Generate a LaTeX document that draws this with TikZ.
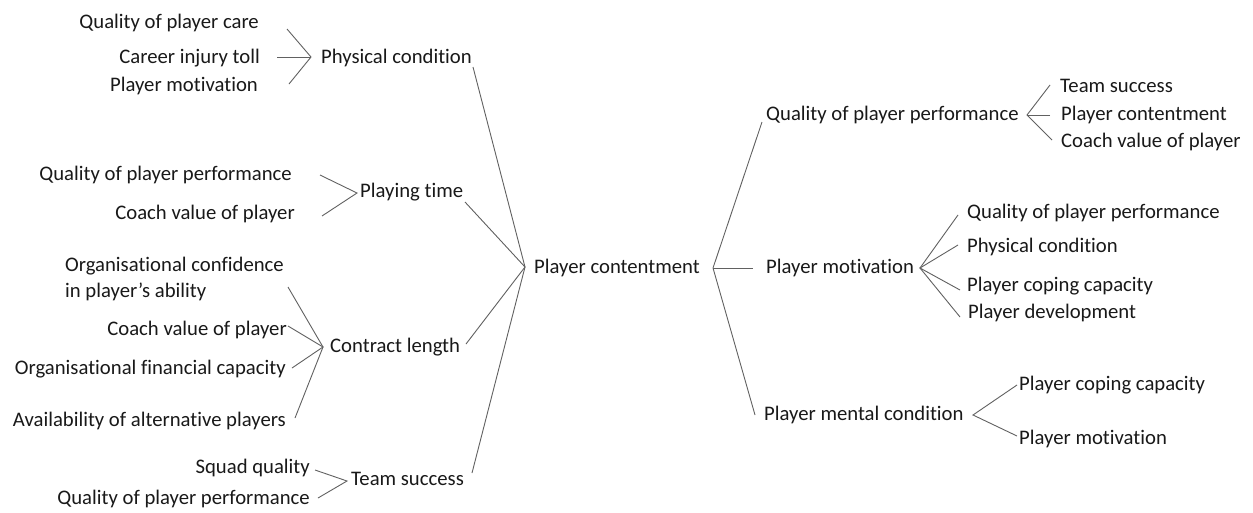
\documentclass[tikz,border=0pt]{standalone}
\usepackage{fontspec}
\setmainfont{Carlito}[Ligatures=NoCommon]
\begin{document}
\begin{tikzpicture}[x=1pt,y=-1pt,
  lbl/.style={inner sep=0pt,text=black!90,font=\fontsize{20.7}{25}\selectfont},
  le/.style={lbl,anchor=base east},
  lw/.style={lbl,anchor=base west},
  link/.style={draw=black!62,line width=0.9pt}]
\fill[white] (0,0) rectangle (1253,512);
\useasboundingbox (0,0) rectangle (1253,512);

% ---- centre ----
\node[lw] (pc) at (534,273) {Player contentment};
\coordinate (cl) at (525,267);
\coordinate (cr) at (713,268);

% ---- left branches ----
\node[lw] (phys) at (321,63) {Physical condition};
\node[le] (qpc) at (259,28) {Quality of player care};
\node[le] (cit) at (260,63) {Career injury toll};
\node[le] (pmo) at (258,91) {Player motivation};

\node[lw] (pt) at (360,197) {Playing time};
\node[le] (qpp1) at (292,180) {Quality of player performance};
\node[le] (cvp1) at (295,219) {Coach value of player};

\node[lw] (cl2) at (330,352) {Contract length};
\node[lw,align=left] (ocp) at (65,297) {Organisational confidence\\[1pt]in player’s ability};
\node[le] (cvp2) at (287,335) {Coach value of player};
\node[le] (ofc) at (286,374) {Organisational financial capacity};
\node[le] (aap) at (286,426) {Availability of alternative players};

\node[lw] (ts) at (351,485) {Team success};
\node[le] (sq) at (310,473) {Squad quality};
\node[le] (qpp2) at (310,504) {Quality of player performance};

% ---- right branches ----
\node[lw] (qpp3) at (766,120) {Quality of player performance};
\node[lw] (ts2) at (1060,92) {Team success};
\node[lw] (pc2) at (1061,120) {Player contentment};
\node[lw] (cvp3) at (1061,147) {Coach value of player};

\node[lw] (pm) at (766,273) {Player motivation};
\node[lw] (qpp4) at (967,218) {Quality of player performance};
\node[lw] (phys2) at (967,252) {Physical condition};
\node[lw] (pcc) at (967,291) {Player coping capacity};
\node[lw] (pd) at (968,318) {Player development};

\node[lw] (pmc) at (764,420) {Player mental condition};
\node[lw] (pcc2) at (1019,390) {Player coping capacity};
\node[lw] (pmo2) at (1019,444) {Player motivation};

% ---- junction points ----
\coordinate (jphys) at (311,57);
\coordinate (a1) at (287,29); \coordinate (a2) at (277,57); \coordinate (a3) at (289,84);
\coordinate (jpt) at (357,193);
\coordinate (b1) at (320,175); \coordinate (b2) at (322,216);
\coordinate (jcl) at (323,347);
\coordinate (c1) at (288,287); \coordinate (c2) at (288,326);
\coordinate (c3) at (292,368); \coordinate (c4) at (295,418);
\coordinate (jts) at (347,481);
\coordinate (d1) at (315,470); \coordinate (d2) at (318,498);

\coordinate (e1) at (473,67); \coordinate (e2) at (465,202);
\coordinate (e3) at (466,344); \coordinate (e4) at (472,473);
\coordinate (e5) at (762,122); \coordinate (e6) at (753,268); \coordinate (e7) at (755,415);

\coordinate (jqpp) at (1027,115);
\coordinate (f1) at (1050,85); \coordinate (f2) at (1050,115); \coordinate (f3) at (1052,140);
\coordinate (jpm) at (920,268);
\coordinate (g1) at (958,215); \coordinate (g2) at (958,245);
\coordinate (g3) at (960,290); \coordinate (g4) at (960,317);
\coordinate (jpmc) at (973,415);
\coordinate (h1) at (1017,385); \coordinate (h2) at (1017,436);

% ---- connectors ----
\draw[link] (a1) -- (jphys) -- (a3);
\draw[link] (a2) -- (jphys);
\draw[link] (b1) -- (jpt) -- (b2);
\draw[link] (c1) -- (jcl) -- (c4);
\draw[link] (c2) -- (jcl) -- (c3);
\draw[link] (d1) -- (jts) -- (d2);

\draw[link] (e1) -- (cl) -- (e4);
\draw[link] (e2) -- (cl) -- (e3);
\draw[link] (e5) -- (cr) -- (e7);
\draw[link] (cr) -- (e6);

\draw[link] (f1) -- (jqpp) -- (f3);
\draw[link] (f2) -- (jqpp);
\draw[link] (g1) -- (jpm) -- (g4);
\draw[link] (g2) -- (jpm) -- (g3);
\draw[link] (h1) -- (jpmc) -- (h2);
\end{tikzpicture}
\end{document}
